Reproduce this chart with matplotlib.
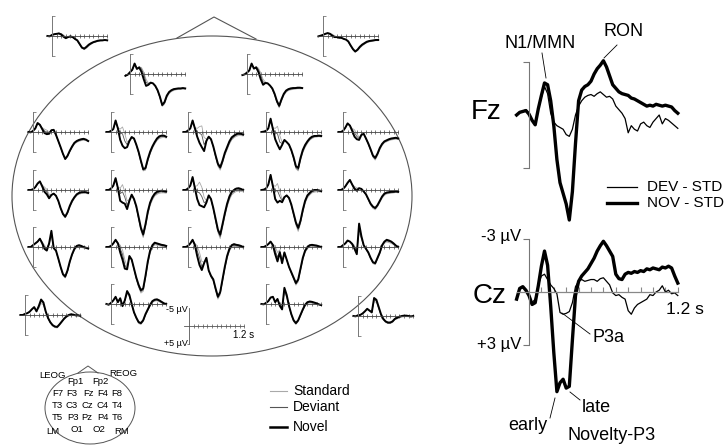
import numpy as np
import matplotlib
matplotlib.use('Agg')
import matplotlib.pyplot as plt
from matplotlib.patches import Ellipse

plt.rcParams['font.family'] = ['Liberation Sans', 'DejaVu Sans']

# ---------------- data (microvolts, positive plotted downwards) ----------------
# small grand-average ERPs, sampled every 50 ms from -0.1 to 1.2 s
time_small = [-0.10, -0.05, 0.00, 0.05, 0.10, 0.15, 0.20, 0.25, 0.30, 0.35, 0.40, 0.45, 0.50,
              0.55, 0.60, 0.65, 0.70, 0.75, 0.80, 0.85, 0.90, 0.95, 1.00, 1.05, 1.10, 1.15, 1.20]

std_LEOG = [0.0, 0.1, -0.2, -0.4, -0.6, -0.8, -0.7, -0.3, 0.2, 0.3, 0.2, 0.4, 0.9, 1.4, 2.4, 3.4, 3.8, 3.4, 2.8, 2.3, 1.9, 1.7, 1.5, 1.4, 1.3, 1.3, 1.3]
dev_LEOG = [0.0, 0.1, -0.2, -0.5, -0.6, -0.8, -0.6, -0.1, 0.4, 0.3, 0.2, 0.4, 0.9, 1.3, 2.3, 3.3, 3.6, 3.2, 2.6, 2.2, 1.8, 1.6, 1.4, 1.3, 1.3, 1.2, 1.2]
nov_LEOG = [0.0, 0.1, -0.3, -0.5, -0.6, -0.7, -0.4, 0.2, 0.6, 0.3, 0.1, 0.3, 0.8, 1.2, 2.2, 3.2, 3.5, 3.0, 2.4, 2.0, 1.7, 1.5, 1.3, 1.2, 1.2, 1.1, 1.2]

std_REOG = [0.1, -0.1, -0.3, -0.5, -0.8, -0.8, -0.5, -0.1, 0.2, 0.4, 0.5, 0.8, 1.1, 1.7, 2.8, 3.9, 4.5, 4.1, 3.4, 2.8, 2.3, 1.9, 1.7, 1.5, 1.4, 1.3, 1.3]
dev_REOG = [0.1, -0.1, -0.3, -0.6, -0.8, -0.7, -0.3, 0.1, 0.3, 0.4, 0.5, 0.8, 1.0, 1.6, 2.7, 3.7, 4.4, 4.0, 3.2, 2.6, 2.2, 1.8, 1.5, 1.4, 1.3, 1.2, 1.2]
nov_REOG = [0.1, -0.1, -0.3, -0.6, -0.8, -0.6, -0.1, 0.3, 0.3, 0.5, 0.5, 0.8, 1.0, 1.5, 2.6, 3.6, 4.3, 3.8, 3.0, 2.4, 2.0, 1.6, 1.4, 1.3, 1.2, 1.1, 1.1]

std_Fp1 = [0.5, 0.2, -0.4, -1.0, -2.6, -1.6, -2.0, -1.8, -0.5, 1.5, 2.5, 2.4, 2.7, 3.5, 4.8, 6.6, 9.0, 8.4, 6.6, 5.5, 4.9, 4.6, 4.4, 4.3, 4.3, 4.2, 4.2]
dev_Fp1 = [0.5, 0.2, -0.4, -1.1, -2.8, -1.5, -2.0, -1.4, 0.2, 2.3, 2.7, 2.4, 2.6, 3.4, 4.6, 6.5, 8.8, 8.1, 6.3, 5.2, 4.7, 4.4, 4.2, 4.1, 4.1, 4.0, 4.1]
nov_Fp1 = [0.5, 0.2, -0.5, -1.2, -2.9, -1.4, -1.8, -0.6, 1.5, 3.3, 3.0, 2.4, 2.6, 3.3, 4.5, 6.3, 8.6, 7.8, 6.0, 5.0, 4.5, 4.2, 4.1, 4.0, 4.0, 3.9, 4.0]

std_Fp2 = [0.3, 0.1, -0.3, -0.9, -2.6, -1.7, -2.1, -1.6, -0.3, 1.5, 2.2, 2.6, 3.3, 4.3, 5.9, 8.0, 9.4, 7.6, 6.0, 5.1, 4.6, 4.4, 4.3, 4.2, 4.1, 4.1, 4.1]
dev_Fp2 = [0.3, 0.1, -0.3, -1.0, -2.8, -1.6, -2.0, -1.2, 0.5, 2.2, 2.4, 2.6, 3.2, 4.2, 5.7, 7.8, 9.1, 7.3, 5.8, 4.8, 4.4, 4.2, 4.1, 4.0, 4.0, 3.9, 4.0]
nov_Fp2 = [0.3, 0.1, -0.4, -1.0, -2.9, -1.5, -1.8, -0.5, 1.5, 3.0, 2.5, 2.6, 3.2, 4.0, 5.5, 7.5, 8.8, 7.0, 5.5, 4.6, 4.2, 4.0, 3.9, 3.9, 3.8, 3.8, 3.9]

std_F7 = [0.0, 0.1, -0.3, -0.9, -2.2, -2.0, -1.2, -0.8, -0.5, 0.0, -0.5, -0.5, 0.9, 2.6, 4.4, 6.2, 7.6, 6.9, 5.5, 4.4, 3.4, 2.9, 2.6, 2.4, 2.3, 2.4, 2.7]
dev_F7 = [0.0, 0.1, -0.3, -1.0, -2.4, -2.0, -1.0, -0.3, 0.0, 0.3, -0.5, -0.5, 0.8, 2.5, 4.3, 6.1, 7.5, 6.8, 5.4, 4.2, 3.2, 2.7, 2.4, 2.2, 2.1, 2.2, 2.6]
nov_F7 = [0.0, 0.1, -0.3, -1.0, -2.5, -2.0, -0.8, 0.3, 0.6, 0.5, -0.5, -0.6, 0.8, 2.5, 4.2, 6.0, 7.5, 6.6, 5.2, 4.0, 3.0, 2.5, 2.2, 2.0, 1.9, 2.1, 2.5]

std_F3 = [0.0, 0.0, -0.3, -0.8, -2.9, -1.2, -0.8, -1.4, 0.5, 2.8, 2.3, 1.5, 2.0, 3.8, 5.9, 8.5, 10.8, 10.6, 8.2, 6.2, 4.6, 3.4, 2.4, 1.8, 1.6, 1.5, 1.7]
dev_F3 = [0.0, 0.0, -0.3, -0.8, -3.1, -1.1, 0.3, 0.5, 2.5, 3.5, 2.4, 1.4, 1.9, 3.6, 5.7, 8.3, 10.6, 10.3, 7.9, 5.9, 4.3, 3.1, 2.1, 1.5, 1.3, 1.2, 1.5]
nov_F3 = [0.0, 0.0, -0.3, -0.8, -3.2, -1.0, 2.2, 3.8, 4.5, 4.2, 2.5, 1.4, 1.8, 3.5, 5.5, 8.0, 10.3, 10.0, 7.5, 5.5, 4.0, 2.8, 1.8, 1.2, 1.0, 1.0, 1.3]

std_Fz = [0.0, 0.0, -0.4, -1.0, -3.0, -1.2, -1.0, -1.5, -1.7, 1.5, 2.0, 1.4, 2.2, 4.3, 7.0, 9.5, 10.6, 8.8, 6.6, 5.0, 3.4, 2.2, 1.6, 1.2, 1.0, 1.0, 1.1]
dev_Fz = [0.0, 0.0, -0.4, -1.0, -3.1, -1.1, 0.0, 0.3, 0.8, 3.5, 2.3, 1.3, 2.1, 4.1, 6.8, 9.2, 10.2, 8.4, 6.2, 4.6, 3.0, 1.9, 1.3, 0.9, 0.7, 0.7, 0.9]
nov_Fz = [0.0, 0.0, -0.4, -1.0, -3.2, -1.0, 1.3, 3.0, 4.2, 5.3, 2.5, 1.3, 2.0, 4.0, 6.5, 8.8, 9.8, 8.0, 5.8, 4.2, 2.6, 1.5, 1.0, 0.6, 0.4, 0.5, 0.7]

std_F4 = [0.0, -0.1, -0.3, -1.0, -3.4, -1.2, -1.0, -1.6, 1.0, 2.8, 2.2, 2.9, 3.7, 5.3, 7.5, 10.2, 10.8, 8.0, 5.8, 4.3, 3.2, 2.3, 1.8, 1.5, 1.4, 1.3, 1.4]
dev_F4 = [0.0, -0.1, -0.3, -1.0, -3.6, -1.0, 0.2, 0.5, 2.8, 3.2, 2.2, 2.8, 3.6, 5.2, 7.3, 9.9, 10.5, 7.6, 5.4, 4.0, 2.9, 2.1, 1.6, 1.3, 1.2, 1.2, 1.3]
nov_F4 = [0.0, -0.1, -0.3, -1.0, -3.7, -0.8, 2.0, 3.5, 4.8, 3.6, 2.2, 2.8, 3.5, 5.0, 7.0, 9.5, 10.0, 7.2, 5.0, 3.6, 2.6, 1.8, 1.3, 1.1, 1.1, 1.0, 1.1]

std_F8 = [0.0, 0.0, -0.3, -1.1, -2.2, -1.8, -1.0, -0.6, 0.5, 1.4, 0.7, 0.6, 2.0, 3.5, 5.2, 7.0, 7.8, 6.6, 5.0, 3.8, 3.0, 2.7, 2.4, 2.2, 2.1, 2.0, 2.1]
dev_F8 = [0.0, 0.0, -0.3, -1.2, -2.3, -1.8, -0.7, 0.2, 1.2, 1.8, 0.8, 0.5, 1.9, 3.3, 5.0, 6.8, 7.5, 6.3, 4.7, 3.5, 2.8, 2.5, 2.2, 2.0, 1.9, 1.8, 1.9]
nov_F8 = [0.0, 0.0, -0.3, -1.2, -2.4, -1.8, -0.3, 1.3, 2.0, 2.2, 0.8, 0.5, 1.8, 3.2, 4.8, 6.5, 7.2, 6.0, 4.4, 3.3, 2.6, 2.3, 2.0, 1.8, 1.7, 1.6, 1.8]

std_T3 = [0.0, 0.0, -0.2, -0.7, -1.6, -2.2, -1.4, -0.8, -0.2, 1.2, 1.2, 1.0, 1.7, 3.2, 5.2, 6.9, 7.7, 6.6, 4.9, 3.5, 2.4, 1.6, 1.2, 1.0, 0.9, 0.9, 1.1]
dev_T3 = [0.0, 0.0, -0.2, -0.8, -1.7, -2.3, -1.2, -0.2, 0.5, 1.8, 1.3, 1.0, 1.6, 3.1, 5.1, 6.8, 7.6, 6.4, 4.6, 3.2, 2.2, 1.4, 1.0, 0.8, 0.7, 0.7, 0.9]
nov_T3 = [0.0, 0.0, -0.2, -0.8, -1.8, -2.4, -1.0, 0.5, 1.2, 2.3, 1.4, 1.0, 1.6, 3.0, 5.0, 6.6, 7.4, 6.2, 4.4, 3.0, 2.0, 1.2, 0.8, 0.6, 0.6, 0.6, 0.8]

std_C3 = [0.0, 0.0, -0.4, -1.2, -3.0, -0.8, -0.5, -1.5, 0.5, 3.0, 2.6, 1.4, 2.8, 5.0, 8.2, 11.3, 13.2, 10.5, 7.0, 4.4, 2.8, 1.7, 1.2, 0.9, 0.8, 0.8, 0.9]
dev_C3 = [0.0, 0.0, -0.4, -1.2, -3.2, -0.6, 1.0, 0.5, 2.0, 4.2, 2.8, 1.3, 2.6, 4.8, 7.9, 10.9, 12.8, 10.0, 6.5, 4.0, 2.4, 1.4, 0.9, 0.6, 0.5, 0.6, 0.7]
nov_C3 = [0.0, 0.0, -0.4, -1.2, -3.3, -0.5, 3.0, 3.5, 3.8, 5.3, 3.0, 1.3, 2.5, 4.5, 7.5, 10.5, 12.3, 9.5, 6.0, 3.5, 2.0, 1.0, 0.5, 0.3, 0.2, 0.3, 0.4]

std_Cz = [0.0, 0.0, -0.4, -1.2, -3.4, -1.0, -1.2, -2.2, -0.8, 2.0, 3.0, 1.6, 2.8, 5.5, 8.8, 11.8, 13.5, 10.6, 7.5, 4.8, 2.8, 1.4, 0.8, 0.4, 0.3, 0.4, 0.5]
dev_Cz = [0.0, 0.0, -0.4, -1.2, -3.5, -0.8, 0.5, 0.8, 1.8, 3.5, 3.2, 1.5, 2.6, 5.2, 8.4, 11.4, 13.0, 10.0, 7.0, 4.3, 2.3, 1.0, 0.4, 0.0, -0.1, 0.0, 0.2]
nov_Cz = [0.0, 0.0, -0.4, -1.2, -3.6, -0.5, 2.5, 4.2, 4.5, 4.8, 3.5, 1.5, 2.5, 5.0, 8.0, 11.0, 12.4, 9.5, 6.5, 3.8, 1.8, 0.5, 0.0, -0.4, -0.5, -0.3, 0.0]

std_C4 = [0.0, -0.1, -0.4, -1.4, -3.8, -1.4, -1.0, -1.8, 0.5, 2.5, 1.8, 1.6, 2.4, 4.4, 7.1, 9.8, 11.5, 9.4, 6.4, 3.8, 2.2, 1.4, 0.8, 0.6, 0.5, 0.5, 0.6]
dev_C4 = [0.0, -0.1, -0.4, -1.5, -4.0, -1.2, 0.3, 0.2, 1.8, 3.0, 1.9, 1.5, 2.3, 4.2, 6.8, 9.4, 11.0, 9.0, 6.0, 3.4, 1.8, 1.1, 0.5, 0.3, 0.2, 0.3, 0.4]
nov_C4 = [0.0, -0.1, -0.4, -1.5, -4.2, -1.0, 2.5, 3.5, 3.0, 3.4, 2.0, 1.5, 2.2, 4.0, 6.5, 9.0, 10.5, 8.5, 5.5, 3.0, 1.5, 0.8, 0.2, 0.0, 0.0, 0.1, 0.3]

std_T4 = [0.0, 0.0, -0.3, -0.9, -1.8, -2.5, -1.6, -1.0, -0.6, -0.5, -0.3, 0.5, 1.4, 2.8, 4.2, 5.1, 5.5, 4.7, 3.5, 2.3, 1.5, 1.1, 1.0, 0.9, 0.8, 0.7, 0.8]
dev_T4 = [0.0, 0.0, -0.3, -1.0, -1.9, -2.7, -1.6, -0.6, -0.2, -0.5, -0.3, 0.4, 1.3, 2.6, 4.0, 4.8, 5.2, 4.4, 3.2, 2.0, 1.2, 0.9, 0.8, 0.7, 0.6, 0.5, 0.6]
nov_T4 = [0.0, 0.0, -0.3, -1.0, -2.0, -2.8, -1.5, -0.3, 0.2, -0.5, -0.3, 0.4, 1.2, 2.5, 3.8, 4.6, 5.0, 4.2, 3.0, 1.8, 1.0, 0.7, 0.6, 0.5, 0.5, 0.4, 0.5]

std_T5 = [0.0, 0.0, -0.5, -0.9, -1.4, -2.2, -1.5, -0.5, 0.3, -0.6, -3.0, 0.4, 1.2, 3.4, 5.8, 7.9, 8.6, 7.0, 4.5, 2.4, 0.9, 0.1, -0.1, 0.1, 0.3, 0.5, 0.6]
dev_T5 = [0.0, 0.0, -0.5, -1.0, -1.5, -2.3, -1.2, 0.0, 0.7, -0.8, -3.8, 0.3, 1.1, 3.3, 5.6, 7.7, 8.4, 6.8, 4.2, 2.2, 0.7, -0.1, -0.3, -0.1, 0.1, 0.3, 0.5]
nov_T5 = [0.0, 0.0, -0.5, -1.0, -1.5, -2.3, -1.0, 0.5, 1.0, -1.0, -4.5, 0.3, 1.0, 3.2, 5.5, 7.5, 8.2, 6.5, 4.0, 2.0, 0.5, -0.3, -0.5, -0.3, 0.0, 0.2, 0.4]

std_P3 = [0.0, 0.0, -0.3, -0.9, -1.8, -1.2, -0.5, 0.8, 3.5, 5.5, 2.8, 3.6, 6.3, 9.0, 11.2, 12.8, 12.3, 8.8, 4.8, 1.8, 0.2, -0.6, -0.5, -0.3, -0.2, -0.1, 0.0]
dev_P3 = [0.0, 0.0, -0.3, -1.0, -1.9, -1.1, 0.5, 2.0, 5.0, 6.0, 2.6, 3.5, 6.1, 8.8, 10.9, 12.4, 11.9, 8.4, 4.4, 1.4, -0.2, -0.9, -0.8, -0.6, -0.4, -0.3, -0.1]
nov_P3 = [0.0, 0.0, -0.3, -1.0, -2.0, -1.0, 1.5, 3.5, 6.0, 6.2, 2.5, 3.5, 6.0, 8.5, 10.5, 12.0, 11.5, 8.0, 4.0, 1.0, -0.5, -1.2, -1.0, -0.8, -0.6, -0.5, -0.3]

std_Pz = [0.0, 0.0, -0.3, -0.9, -1.8, -1.0, -0.3, 1.5, 4.0, 4.2, 3.3, 6.7, 8.4, 9.5, 12.2, 14.5, 13.3, 9.8, 6.3, 3.3, 1.2, 0.1, -0.2, -0.1, 0.0, 0.1, 0.3]
dev_Pz = [0.0, 0.0, -0.3, -1.0, -1.9, -0.8, 1.0, 3.0, 5.5, 4.4, 3.1, 6.6, 8.2, 9.2, 11.8, 14.1, 12.9, 9.4, 5.9, 2.9, 0.9, -0.2, -0.5, -0.3, -0.2, -0.1, 0.1]
nov_Pz = [0.0, 0.0, -0.3, -1.0, -2.0, -0.5, 2.5, 5.0, 6.4, 4.5, 3.0, 6.5, 8.0, 9.0, 11.5, 13.8, 12.5, 9.0, 5.5, 2.5, 0.5, -0.5, -0.8, -0.6, -0.5, -0.3, 0.0]

std_P4 = [0.0, 0.0, -0.3, -0.8, -1.4, -0.8, -0.2, 1.5, 0.8, 3.5, 1.6, 3.6, 5.8, 7.4, 9.0, 10.6, 9.7, 6.7, 3.7, 1.6, 0.5, -0.1, -0.2, -0.1, 0.0, 0.1, 0.2]
dev_P4 = [0.0, 0.0, -0.3, -0.8, -1.5, -0.6, 1.0, 2.8, 1.2, 4.0, 1.5, 3.5, 5.6, 7.2, 8.7, 10.3, 9.3, 6.3, 3.3, 1.3, 0.2, -0.3, -0.4, -0.3, -0.2, 0.0, 0.1]
nov_P4 = [0.0, 0.0, -0.3, -0.8, -1.5, -0.5, 2.0, 4.0, 1.5, 4.5, 1.5, 3.5, 5.5, 7.0, 8.5, 10.0, 9.0, 6.0, 3.0, 1.0, 0.0, -0.5, -0.6, -0.5, -0.4, -0.2, 0.0]

std_T6 = [0.0, 0.0, -0.5, -0.9, -1.6, -1.5, -1.1, -0.4, 1.0, -4.0, -2.2, -0.3, 0.7, 1.8, 3.3, 4.6, 4.9, 3.5, 2.0, 0.0, -1.0, -1.4, -1.2, -1.0, -0.6, -0.1, 0.2]
dev_T6 = [0.0, 0.0, -0.5, -1.0, -1.7, -1.5, -1.0, 0.0, 1.5, -5.2, -2.6, -0.4, 0.6, 1.6, 3.1, 4.4, 4.7, 3.2, 1.7, -0.3, -1.3, -1.7, -1.5, -1.3, -0.8, -0.3, 0.1]
nov_T6 = [0.0, 0.0, -0.5, -1.0, -1.8, -1.5, -0.8, 0.5, 2.0, -6.5, -3.0, -0.5, 0.5, 1.5, 3.0, 4.2, 4.5, 3.0, 1.5, -0.5, -1.5, -2.0, -1.8, -1.5, -1.0, -0.4, 0.0]

std_LM = [0.0, 0.0, -0.3, -0.5, -0.9, -1.5, -2.0, -1.4, -1.8, -3.2, -2.8, -0.8, 1.0, 2.3, 3.1, 3.5, 3.6, 2.9, 2.1, 1.3, 0.7, 0.3, 0.1, 0.1, 0.2, 0.2, 0.3]
dev_LM = [0.0, 0.0, -0.3, -0.5, -0.9, -1.6, -2.1, -1.2, -2.2, -3.8, -3.2, -0.9, 0.9, 2.1, 2.9, 3.3, 3.4, 2.7, 1.9, 1.1, 0.5, 0.1, -0.1, 0.0, 0.1, 0.1, 0.2]
nov_LM = [0.0, 0.0, -0.3, -0.5, -0.9, -1.6, -2.2, -1.0, -2.5, -4.3, -3.5, -1.0, 0.8, 2.0, 2.8, 3.2, 3.3, 2.6, 1.8, 1.0, 0.4, 0.0, -0.2, -0.1, 0.1, 0.1, 0.2]

std_O1 = [0.0, 0.2, -0.3, -0.9, -1.8, -0.7, -1.5, 0.0, -0.8, -2.8, -2.0, 0.2, 2.5, 4.1, 5.4, 5.7, 4.9, 3.2, 1.9, 0.6, -0.4, -0.8, -0.9, -0.6, -0.3, 0.1, 0.2]
dev_O1 = [0.0, 0.2, -0.3, -1.0, -1.9, -0.6, -1.6, 0.3, -0.9, -3.2, -2.2, 0.1, 2.4, 3.9, 5.2, 5.5, 4.7, 3.0, 1.7, 0.4, -0.6, -1.0, -1.1, -0.8, -0.4, 0.0, 0.1]
nov_O1 = [0.0, 0.2, -0.3, -1.0, -2.0, -0.5, -1.6, 0.6, -1.0, -3.6, -2.5, 0.0, 2.3, 3.8, 5.0, 5.3, 4.5, 2.8, 1.5, 0.2, -0.8, -1.2, -1.3, -1.0, -0.6, -0.2, 0.0]

std_O2 = [0.0, 0.1, -0.3, -0.7, -1.6, -1.9, -0.9, -1.2, 0.0, 0.8, -3.2, -1.8, 0.8, 3.1, 4.9, 5.7, 4.9, 3.4, 1.9, 0.6, -0.1, -0.3, -0.2, 0.0, 0.1, 0.3, 0.4]
dev_O2 = [0.0, 0.1, -0.3, -0.8, -1.7, -2.0, -0.7, -1.3, 0.3, 1.2, -3.9, -2.2, 0.6, 2.9, 4.7, 5.5, 4.7, 3.2, 1.7, 0.4, -0.3, -0.5, -0.4, -0.2, 0.0, 0.2, 0.3]
nov_O2 = [0.0, 0.1, -0.3, -0.8, -1.8, -2.0, -0.5, -1.4, 0.5, 1.5, -4.5, -2.5, 0.5, 2.8, 4.5, 5.3, 4.5, 3.0, 1.5, 0.2, -0.5, -0.7, -0.6, -0.4, -0.2, 0.1, 0.3]

std_RM = [0.0, 0.1, -0.2, -0.3, -0.7, -1.2, -1.8, -1.6, -1.2, -4.0, -3.8, -2.0, -0.2, 1.1, 1.8, 2.1, 2.1, 1.8, 1.1, 0.8, 0.5, 0.3, 0.2, 0.2, 0.2, 0.3, 0.2]
dev_RM = [0.0, 0.1, -0.2, -0.3, -0.7, -1.3, -1.9, -1.5, -1.1, -4.5, -4.2, -2.2, -0.3, 1.0, 1.6, 2.0, 2.0, 1.6, 0.9, 0.6, 0.3, 0.1, 0.0, 0.0, 0.1, 0.2, 0.1]
nov_RM = [0.0, 0.1, -0.2, -0.3, -0.7, -1.3, -2.0, -1.5, -1.0, -5.0, -4.5, -2.5, -0.5, 0.8, 1.5, 1.8, 1.8, 1.5, 0.8, 0.5, 0.2, 0.0, -0.1, -0.1, 0.0, 0.1, 0.0]

# difference waves at Fz and Cz, sampled every 25 ms from -0.1 to 1.2 s
time_diff = [-0.100, -0.075, -0.050, -0.025, 0.000, 0.025, 0.050, 0.075, 0.100, 0.125, 0.150,
             0.175, 0.200, 0.225, 0.250, 0.275, 0.300, 0.325, 0.350, 0.375, 0.400, 0.425,
             0.450, 0.475, 0.500, 0.525, 0.550, 0.575, 0.600, 0.625, 0.650, 0.675, 0.700,
             0.725, 0.750, 0.775, 0.800, 0.825, 0.850, 0.875, 0.900, 0.925, 0.950, 0.975,
             1.000, 1.025, 1.050, 1.075, 1.100, 1.125, 1.150, 1.175, 1.200]

fz_dev_std = [0.0, -0.15, -0.2, -0.3, -0.1, 0.3, 0.5, -0.3, -1.0, -1.6, -1.2, -0.1, 0.4, 0.6, 0.7, 0.8,
              1.1, 1.2, 0.8, 0.0, -0.5, -0.8, -1.0, -1.1, -1.15, -1.05, -1.2, -1.3, -1.15, -1.0,
              -1.05, -0.9, -0.5, -0.3, -0.1, 0.2, 1.0, 0.6, 0.8, 0.9, 0.5, 0.4, 0.6, 0.7, 0.4,
              0.2, 0.0, 0.5, 0.2, 0.3, 0.45, 0.6, 0.75]
fz_nov_std = [0.0, -0.15, -0.2, -0.25, -0.05, 0.3, 0.55, -0.35, -1.1, -1.8, -1.7, -0.8, 0.6, 2.5, 3.8,
              4.4, 5.0, 5.9, 4.3, 1.6, -0.8, -1.4, -1.6, -1.7, -1.9, -2.3, -2.6, -2.8, -3.05, -2.7,
              -2.2, -1.7, -1.5, -1.3, -1.2, -1.15, -1.1, -0.95, -0.9, -0.8, -0.7, -0.6, -0.5,
              -0.55, -0.5, -0.6, -0.55, -0.5, -0.55, -0.5, -0.45, -0.25, -0.1]
cz_dev_std = [0.4, -0.2, -0.3, -0.1, 0.2, 0.6, 0.4, -0.4, -0.9, -1.0, -0.7, -0.4, -0.2, 0.1, 1.15,
              1.25, 1.2, 1.1, 0.6, -0.3, -0.6, -0.7, -0.6, -0.65, -0.7, -0.7, -0.6, -0.75, -0.8,
              -0.6, -0.4, 0.05, 0.2, 0.15, 0.3, 0.4, 1.05, 1.25, 0.9, 0.7, 0.6, 0.5, 0.4, 0.15,
              0.2, 0.0, -0.1, -0.35, 0.0, -0.1, 0.1, 0.05, 0.2]
cz_nov_std = [0.4, -0.2, -0.3, -0.1, 0.2, 0.7, 0.6, -0.35, -1.45, -2.3, -1.5, 0.8, 3.4, 5.6, 5.1,
              4.9, 5.4, 5.3, 2.7, 0.2, -0.6, -0.9, -1.1, -1.3, -1.6, -1.9, -2.3, -2.6, -2.85,
              -2.6, -2.3, -2.0, -1.0, -0.75, -0.7, -1.0, -1.1, -1.05, -1.15, -1.1, -1.2, -1.15,
              -1.3, -1.25, -1.35, -1.3, -1.25, -1.4, -1.35, -1.45, -1.35, -0.9, -0.5]

electrodes = {
    'LEOG': (std_LEOG, dev_LEOG, nov_LEOG), 'REOG': (std_REOG, dev_REOG, nov_REOG),
    'Fp1': (std_Fp1, dev_Fp1, nov_Fp1), 'Fp2': (std_Fp2, dev_Fp2, nov_Fp2),
    'F7': (std_F7, dev_F7, nov_F7), 'F3': (std_F3, dev_F3, nov_F3), 'Fz': (std_Fz, dev_Fz, nov_Fz),
    'F4': (std_F4, dev_F4, nov_F4), 'F8': (std_F8, dev_F8, nov_F8),
    'T3': (std_T3, dev_T3, nov_T3), 'C3': (std_C3, dev_C3, nov_C3), 'Cz': (std_Cz, dev_Cz, nov_Cz),
    'C4': (std_C4, dev_C4, nov_C4), 'T4': (std_T4, dev_T4, nov_T4),
    'T5': (std_T5, dev_T5, nov_T5), 'P3': (std_P3, dev_P3, nov_P3), 'Pz': (std_Pz, dev_Pz, nov_Pz),
    'P4': (std_P4, dev_P4, nov_P4), 'T6': (std_T6, dev_T6, nov_T6),
    'LM': (std_LM, dev_LM, nov_LM), 'O1': (std_O1, dev_O1, nov_O1),
    'O2': (std_O2, dev_O2, nov_O2), 'RM': (std_RM, dev_RM, nov_RM),
}

# ---------------- layout (pixels) ----------------
W, H = 726, 446
# zero-time x and baseline y of every small panel
panel_pos = {
    'LEOG': (52, 36), 'REOG': (323, 36),
    'Fp1': (130, 74), 'Fp2': (247, 74),
    'F7': (33, 132), 'F3': (111, 132), 'Fz': (188, 132), 'F4': (266, 132), 'F8': (343, 132),
    'T3': (33, 190), 'C3': (111, 190), 'Cz': (188, 190), 'C4': (266, 190), 'T4': (343, 190),
    'T5': (33, 247), 'P3': (111, 247), 'Pz': (188, 247), 'P4': (266, 247), 'T6': (343, 247),
    'LM': (25, 315), 'O1': (111, 304), 'O2': (266, 304), 'RM': (358, 316),
}
SMALL_T, SMALL_UV = 46.0, 3.6      # px per second, px per microvolt
BIG_T, BIG_UV = 124.0, 17.8
TICKS = [0.1, 0.2, 0.3, 0.4, 0.5, 0.6, 0.7, 0.8, 0.9, 1.0, 1.1, 1.2]

STD_C, DEV_C = '#a9a9a9', '#555555'

fig = plt.figure(figsize=(W / 100, H / 100), dpi=100)


def px_axes(x0, y0, w, h):
    return fig.add_axes([x0 / W, 1 - (y0 + h) / H, w / W, h / H])


def erp_axes(bx, by, pxs, pxuv, v_top, v_bot):
    t0, t1 = -0.12, 1.27
    ax = px_axes(bx + t0 * pxs, by + v_top * pxuv, (t1 - t0) * pxs, (v_bot - v_top) * pxuv)
    ax.set_xlim(t0, t1)
    ax.set_ylim(v_bot, v_top)
    ax.patch.set_visible(False)
    ax.spines['top'].set_visible(False)
    ax.spines['right'].set_visible(False)
    ax.spines['left'].set_position(('data', 0))
    ax.spines['bottom'].set_position(('data', 0))
    ax.spines['bottom'].set_bounds(-0.1, 1.2)
    ax.set_xticks(TICKS)
    ax.tick_params(labelbottom=False, labelleft=False)
    return ax


bg = px_axes(0, 0, W, H)
bg.set_xlim(0, W)
bg.set_ylim(H, 0)
bg.axis('off')

# head outline with nose
bg.add_patch(Ellipse((212, 196), 400, 320, fill=False, lw=0.8, ec='#555555'))
bg.plot([177, 214, 256], [38, 17, 39], color='#555555', lw=0.8)

# small ERP panels
for name, (bx, by) in panel_pos.items():
    std, dev, nov = electrodes[name]
    ax = erp_axes(bx, by, SMALL_T, SMALL_UV, -8, 15)
    ax.spines['left'].set_bounds(-5.5, 5.5)
    ax.spines['left'].set_color('#777777')
    ax.spines['left'].set_linewidth(0.7)
    ax.spines['bottom'].set_color('#444444')
    ax.spines['bottom'].set_linewidth(0.6)
    ax.set_yticks([-5.5, 5.5])
    ax.tick_params(axis='x', direction='inout', length=2.4, width=0.5, colors='#444444')
    ax.tick_params(axis='y', direction='in', length=2.0, width=0.6, colors='#777777')
    ax.plot(time_small, std, color=STD_C, lw=0.6, clip_on=False)
    ax.plot(time_small, dev, color=DEV_C, lw=0.6, clip_on=False)
    ax.plot(time_small, nov, color='black', lw=1.4, clip_on=False)

# calibration bar
cal = erp_axes(189, 326, SMALL_T, SMALL_UV, -8, 8)
cal.spines['left'].set_bounds(-5, 5)
cal.spines['left'].set_color('#555555')
cal.spines['bottom'].set_color('#555555')
cal.spines['left'].set_linewidth(0.6)
cal.spines['bottom'].set_linewidth(0.6)
cal.set_yticks([5])
cal.tick_params(axis='x', direction='inout', length=2.4, width=0.5, colors='#555555')
cal.tick_params(axis='y', direction='out', length=1.5, width=0.5, colors='#555555')
bg.text(188, 310, '-5 µV', ha='right', va='center', fontsize=6.5)
bg.text(188, 343, '+5 µV', ha='right', va='center', fontsize=6.5)
bg.text(244, 335, '1.2 s', ha='center', va='center', fontsize=7)

# small electrode map
bg.add_patch(Ellipse((90, 408), 90, 72, fill=False, lw=0.7, ec='#555555'))
bg.plot([78, 88, 98], [373, 366, 373], color='#555555', lw=0.7)
map_labels = [('LEOG', 52, 375), ('REOG', 123, 374), ('Fp1', 75, 382), ('Fp2', 100, 382),
              ('F7', 58, 393), ('F3', 72, 394), ('Fz', 88, 393), ('F4', 103, 393), ('F8', 117, 393),
              ('T3', 57, 405), ('C3', 72, 405), ('Cz', 87, 405), ('C4', 103, 405), ('T4', 117, 405),
              ('T5', 57, 417), ('P3', 73, 417), ('Pz', 87, 417), ('P4', 103, 417), ('T6', 117, 417),
              ('O1', 77, 429), ('O2', 99, 429), ('LM', 53, 432), ('RM', 122, 432)]
for lab, x, y in map_labels:
    bg.text(x, y, lab, ha='center', va='center', fontsize=6.8)

# legend for small panels
for y, col, lw, lab in [(391, STD_C, 0.8, 'Standard'), (407, DEV_C, 0.8, 'Deviant'),
                        (427, 'black', 1.8, 'Novel')]:
    bg.plot([270, 287], [y, y], color=col, lw=lw)
    bg.text(293, y, lab, ha='left', va='center', fontsize=10)

# difference waves
fz = erp_axes(529, 115, BIG_T, BIG_UV, -4, 7)
cz = erp_axes(529, 292, BIG_T, BIG_UV, -3.6, 8.6)
for ax in (fz, cz):
    ax.spines['left'].set_bounds(-3, 3)
    ax.spines['left'].set_color('#777777')
    ax.spines['left'].set_linewidth(0.8)
    ax.set_yticks([-3, 3])
    ax.tick_params(axis='y', direction='out', length=4, width=0.8, colors='#777777')
fz.spines['bottom'].set_visible(False)
fz.tick_params(axis='x', length=0)
cz.spines['bottom'].set_color('#888888')
cz.spines['bottom'].set_linewidth(0.9)
cz.tick_params(axis='x', direction='in', length=3.5, width=0.8, colors='#888888')

fz.plot(time_diff, fz_dev_std, color='black', lw=0.9, clip_on=False)
fz.plot(time_diff, fz_nov_std, color='black', lw=2.4, clip_on=False)
cz.plot(time_diff, cz_dev_std, color='black', lw=0.9, clip_on=False)
cz.plot(time_diff, cz_nov_std, color='black', lw=2.4, clip_on=False)

bg.text(486, 112, 'Fz', ha='center', va='center', fontsize=20)
bg.text(490, 296, 'Cz', ha='center', va='center', fontsize=20)
bg.text(521, 237, '-3 µV', ha='right', va='center', fontsize=12)
bg.text(521, 345, '+3 µV', ha='right', va='center', fontsize=12)
bg.text(685, 309, '1.2 s', ha='center', va='center', fontsize=12.5)

bg.text(540, 43, 'N1/MMN', ha='center', va='center', fontsize=13)
bg.plot([542, 546], [53, 78], color='black', lw=0.6)
bg.text(624, 32, 'RON', ha='center', va='center', fontsize=13)
bg.plot([617, 604], [45, 58], color='black', lw=0.6)

bg.plot([607, 637], [187, 187], color='black', lw=0.9)
bg.text(647, 187, 'DEV - STD', ha='left', va='center', fontsize=11)
bg.plot([607, 637], [203, 203], color='black', lw=2.4)
bg.text(647, 203, 'NOV - STD', ha='left', va='center', fontsize=11)

bg.text(592, 337, 'P3a', ha='left', va='center', fontsize=13)
bg.plot([562, 590], [313, 334], color='black', lw=0.6)
bg.text(582, 408, 'late', ha='left', va='center', fontsize=13)
bg.plot([570, 580], [392, 400], color='black', lw=0.6)
bg.text(528, 425, 'early', ha='center', va='center', fontsize=13)
bg.plot([555, 550], [398, 418], color='black', lw=0.6)
bg.text(612, 436, 'Novelty-P3', ha='center', va='center', fontsize=13)

fig.savefig('out.png', dpi=100)
